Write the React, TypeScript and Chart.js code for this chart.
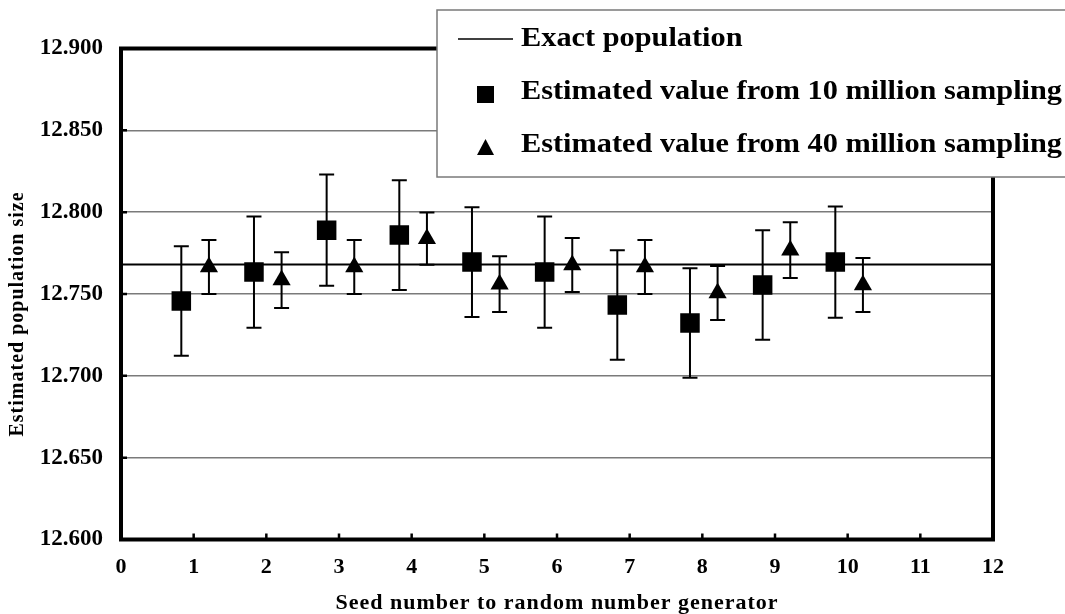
import React, { useEffect, useRef } from 'react';
import { Chart, registerables } from 'chart.js';

Chart.register(...registerables);

// ---- data ----
const seeds = [1, 2, 3, 4, 5, 6, 7, 8, 9, 10];
const est10M = [12.7457, 12.7634, 12.789, 12.786, 12.7695, 12.7634, 12.7433, 12.7323, 12.7555, 12.7695];
const err10M = [0.0335, 0.034, 0.034, 0.0335, 0.0335, 0.034, 0.0335, 0.0335, 0.0335, 0.034];
const est40M = [12.7665, 12.7585, 12.7665, 12.7838, 12.756, 12.7677, 12.7665, 12.7506, 12.7768, 12.7555];
const err40M = [0.0165, 0.017, 0.0165, 0.016, 0.017, 0.0165, 0.0165, 0.0165, 0.017, 0.0165];
const exactPopulation = 12.768;
const offset10M = -0.17;
const offset40M = 0.21;
const xTicks = [0, 1, 2, 3, 4, 5, 6, 7, 8, 9, 10, 11, 12];
const yTicks = [12.6, 12.65, 12.7, 12.75, 12.8, 12.85, 12.9];
const legendLabels = [
  'Exact population',
  'Estimated value from 10 million sampling',
  'Estimated value from 40 million sampling',
];
const xTitle = 'Seed number to random number generator';
const yTitle = 'Estimated population size';

const FONT = '"Liberation Serif", "Times New Roman", serif';

const errorBarPlugin = {
  id: 'errorBars',
  beforeDatasetsDraw(chart: any) {
    const { ctx } = chart;
    const x = chart.scales.x;
    const y = chart.scales.y;
    ctx.save();
    ctx.strokeStyle = '#000';
    ctx.lineWidth = 2;
    chart.data.datasets.forEach((ds: any) => {
      if (!ds.errors) return;
      ds.data.forEach((p: any, i: number) => {
        const px = x.getPixelForValue(p.x);
        const top = y.getPixelForValue(p.y + ds.errors[i]);
        const bot = y.getPixelForValue(p.y - ds.errors[i]);
        ctx.beginPath();
        ctx.moveTo(px, top);
        ctx.lineTo(px, bot);
        ctx.moveTo(px - 7.5, top);
        ctx.lineTo(px + 7.5, top);
        ctx.moveTo(px - 7.5, bot);
        ctx.lineTo(px + 7.5, bot);
        ctx.stroke();
      });
    });
    ctx.restore();
  },
};

const framePlugin = {
  id: 'frameLegend',
  afterDraw(chart: any) {
    const { ctx, chartArea } = chart;
    const { left, right, top, bottom } = chartArea;
    const x = chart.scales.x;
    const y = chart.scales.y;
    ctx.save();
    // frame
    ctx.strokeStyle = '#000';
    ctx.lineWidth = 4;
    ctx.strokeRect(left, top, right - left, bottom - top);
    // inward tick marks
    ctx.lineWidth = 2.5;
    ctx.beginPath();
    yTicks.forEach((v) => {
      const py = y.getPixelForValue(v);
      ctx.moveTo(left, py);
      ctx.lineTo(left + 6, py);
    });
    xTicks.forEach((v) => {
      const px = x.getPixelForValue(v);
      ctx.moveTo(px, bottom);
      ctx.lineTo(px, bottom - 6);
    });
    ctx.stroke();

    // legend box
    const bx = 437, by = 10, bw = 640, bh = 167;
    ctx.fillStyle = '#fff';
    ctx.fillRect(bx, by, bw, bh);
    ctx.strokeStyle = '#7a7a7a';
    ctx.lineWidth = 1.5;
    ctx.strokeRect(bx, by, bw, bh);

    ctx.fillStyle = '#000';
    ctx.font = `bold 28px ${FONT}`;
    const w = ctx.measureText(legendLabels[1]).width;
    const sx = 541 / w;
    const baselines = [46, 99, 152];
    legendLabels.forEach((t, i) => {
      ctx.save();
      ctx.translate(521, baselines[i]);
      ctx.scale(sx, 1);
      ctx.textAlign = 'left';
      ctx.textBaseline = 'alphabetic';
      ctx.fillText(t, 0, 0);
      ctx.restore();
    });
    // legend symbols
    ctx.strokeStyle = '#000';
    ctx.lineWidth = 1.5;
    ctx.beginPath();
    ctx.moveTo(458, 39);
    ctx.lineTo(513, 39);
    ctx.stroke();
    ctx.fillRect(477, 86, 17, 17);
    ctx.beginPath();
    ctx.moveTo(485.5, 139);
    ctx.lineTo(494, 155);
    ctx.lineTo(477, 155);
    ctx.closePath();
    ctx.fill();

    // axis titles
    ctx.font = `bold 20px ${FONT}`;
    ctx.textAlign = 'center';
    ctx.textBaseline = 'middle';
    ctx.save();
    ctx.translate(18, 314);
    ctx.rotate(-Math.PI / 2);
    (ctx as any).letterSpacing = '1px';
    ctx.fillText(yTitle, 0, 0);
    ctx.restore();

    ctx.font = `bold 22px ${FONT}`;
    (ctx as any).letterSpacing = '1px';
    ctx.textBaseline = 'alphabetic';
    ctx.fillText(xTitle, (left + right) / 2, 609);
    ctx.restore();
  },
};

export default function App() {
  const ref = useRef<HTMLCanvasElement>(null);

  useEffect(() => {
    if (!ref.current) return;
    const chart = new Chart(ref.current, {
      type: 'scatter',
      data: {
        datasets: [
          {
            label: legendLabels[0],
            data: [
              { x: xTicks[0], y: exactPopulation },
              { x: xTicks[xTicks.length - 1], y: exactPopulation },
            ],
            showLine: true,
            borderColor: '#000',
            borderWidth: 2,
            pointRadius: 0,
          },
          {
            label: legendLabels[1],
            data: seeds.map((s, i) => ({ x: s + offset10M, y: est10M[i] })),
            errors: err10M,
            pointStyle: 'rect',
            pointRadius: 13.8,
            backgroundColor: '#000',
            borderColor: '#000',
            borderWidth: 0,
          } as any,
          {
            label: legendLabels[2],
            data: seeds.map((s, i) => ({ x: s + offset40M, y: est40M[i] })),
            errors: err40M,
            pointStyle: 'triangle',
            pointRadius: 10.5,
            backgroundColor: '#000',
            borderColor: '#000',
            borderWidth: 0,
          } as any,
        ],
      },
      options: {
        animation: false,
        responsive: false,
        events: [],
        layout: { padding: { top: 48.5, right: 72, left: 0, bottom: 0 } },
        plugins: {
          legend: { display: false },
          tooltip: { enabled: false },
        },
        scales: {
          x: {
            type: 'linear',
            min: 0,
            max: 12,
            afterBuildTicks: (scale: any) => {
              scale.ticks = xTicks.map((v) => ({ value: v }));
            },
            afterFit: (scale: any) => {
              scale.height = 74.5;
            },
            ticks: {
              autoSkip: false,
              maxRotation: 0,
              padding: 15,
              color: '#000',
              font: { family: FONT, weight: 'bold', size: 22 },
              callback: (v: any) => String(v),
            },
            grid: { display: false, drawTicks: false },
            border: { display: false },
          },
          y: {
            type: 'linear',
            min: 12.6,
            max: 12.9,
            afterBuildTicks: (scale: any) => {
              scale.ticks = yTicks.map((v) => ({ value: v }));
            },
            afterFit: (scale: any) => {
              scale.width = 121;
            },
            ticks: {
              padding: 18,
              color: '#000',
              font: { family: FONT, weight: 'bold', size: 23 },
              callback: (v: any) => Number(v).toFixed(3),
            },
            grid: { color: '#7a7a7a', lineWidth: 1.5, drawTicks: false },
            border: { display: false },
          },
        },
      } as any,
      plugins: [errorBarPlugin, framePlugin],
    });
    return () => chart.destroy();
  }, []);

  return (
    <div style={{ position: 'fixed', left: 0, top: 0, width: 1065, height: 614, background: '#fff' }}>
      <canvas ref={ref} width={1065} height={614} />
    </div>
  );
}
